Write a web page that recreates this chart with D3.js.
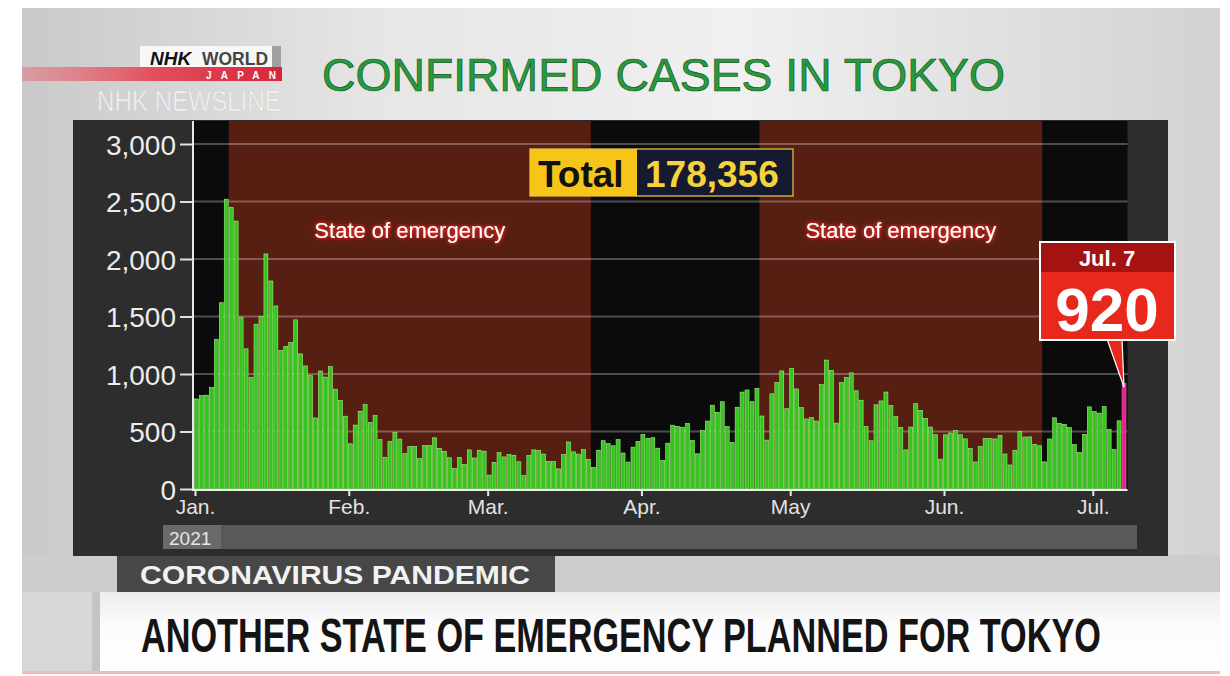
<!DOCTYPE html>
<html>
<head>
<meta charset="utf-8">
<script src="https://cdn.jsdelivr.net/npm/d3@7"></script>
<style>
body { margin: 0; background: #fff; }
svg { display: block; font-family: "Liberation Sans", Arial, Helvetica, sans-serif; }
</style>
</head>
<body>
<div class="canvas"></div>
<script>
// Daily confirmed cases, Tokyo, Jan 1 - Jul 7 2021
const janCases = [783, 814, 816, 884, 1300, 1620, 2520, 2450, 2330, 1494, 1219, 970, 1433, 1502, 2044, 1809,
    1592, 1204, 1240, 1274, 1471, 1175, 1070, 986, 618, 1026, 973, 1064, 868, 769, 633];
const febCases = [393, 556, 676, 734, 577, 639, 429, 276, 412, 491, 434, 307, 369, 371, 266, 378, 378, 445,
    353, 327, 272, 178, 275, 213, 340, 270, 337, 329];
const marCases = [121, 232, 316, 279, 301, 293, 237, 116, 290, 340, 335, 304, 239, 239, 175, 300, 409, 323,
    303, 342, 256, 187, 337, 420, 394, 376, 430, 313, 234, 364, 414];
const aprCases = [475, 440, 446, 355, 249, 399, 555, 545, 537, 570, 421, 306, 510, 591, 729, 667, 759, 543,
    405, 711, 843, 861, 759, 876, 635, 425, 828, 925, 1027, 698];
const mayCases = [1050, 870, 708, 609, 621, 591, 907, 1121, 1032, 573, 925, 969, 1010, 854, 772, 542, 419,
    732, 766, 843, 725, 630, 535, 340, 539, 743, 684, 614, 539, 472, 260];
const junCases = [471, 487, 508, 472, 436, 351, 235, 369, 440, 439, 435, 467, 304, 209, 337, 501, 452, 453,
    388, 376, 236, 435, 619, 570, 562, 534, 386, 317, 476, 714];
const julCases = [673, 660, 716, 518, 342, 593, 920];

const cases = [].concat(janCases, febCases, marCases, aprCases, mayCases, junCases, julCases);
const startDate = new Date(2021, 0, 1);
const monthLabels = ["Jan.", "Feb.", "Mar.", "Apr.", "May", "Jun.", "Jul."];
const yTicks = [0, 500, 1000, 1500, 2000, 2500, 3000];
const emergencies = [
    [new Date(2021, 0, 8), new Date(2021, 2, 22)],
    [new Date(2021, 3, 25), new Date(2021, 5, 21)]
];
const totalCases = 178356;
const lastLabel = "Jul. 7";

const days = cases.map((v, i) => ({ date: d3.timeDay.offset(startDate, i), value: v }));
const last = days[days.length - 1];

const svg = d3.select('.canvas')
    .append('svg')
    .attr('width', 1230)
    .attr('height', 676);

const defs = svg.append('defs');

// background gradient of the studio frame
const bgGrad = defs.append('linearGradient').attr('id', 'bg');
bgGrad.append('stop').attr('offset', '0%').attr('stop-color', '#c9c9c9');
bgGrad.append('stop').attr('offset', '30%').attr('stop-color', '#e6e6e6');
bgGrad.append('stop').attr('offset', '60%').attr('stop-color', '#f0f0f0');
bgGrad.append('stop').attr('offset', '100%').attr('stop-color', '#d2d2d2');

const redGrad = defs.append('linearGradient').attr('id', 'redbar');
redGrad.append('stop').attr('offset', '0%').attr('stop-color', '#e8707c').attr('stop-opacity', 0.5);
redGrad.append('stop').attr('offset', '50%').attr('stop-color', '#e2505e');
redGrad.append('stop').attr('offset', '100%').attr('stop-color', '#d8243a');

const bannerGrad = defs.append('linearGradient').attr('id', 'banner')
    .attr('x1', 0).attr('x2', 0).attr('y1', 0).attr('y2', 1);
bannerGrad.append('stop').attr('offset', '0%').attr('stop-color', '#ececec');
bannerGrad.append('stop').attr('offset', '40%').attr('stop-color', '#fbfbfb');
bannerGrad.append('stop').attr('offset', '100%').attr('stop-color', '#ffffff');

const glow = defs.append('filter').attr('id', 'glow')
    .attr('x', '-10%').attr('y', '-40%').attr('width', '120%').attr('height', '180%');
glow.append('feGaussianBlur').attr('in', 'SourceAlpha').attr('stdDeviation', 2.2).attr('result', 'b');
glow.append('feFlood').attr('flood-color', '#ff2a2a').attr('flood-opacity', 0.95);
glow.append('feComposite').attr('in2', 'b').attr('operator', 'in').attr('result', 'g');
const gm = glow.append('feMerge');
gm.append('feMergeNode').attr('in', 'g');
gm.append('feMergeNode').attr('in', 'g');
gm.append('feMergeNode').attr('in', 'SourceGraphic');

// squeeze a text horizontally so it spans `w` pixels without textLength
function fitWidth(sel, x0, y0, w) {
    const natural = sel.node().getComputedTextLength();
    const sx = natural > 0 ? w / natural : 1;
    sel.attr('x', 0).attr('y', 0)
        .attr('transform', `translate(${x0},${y0}) scale(${sx},1)`);
}

// Frame
svg.append('rect').attr('x', 22).attr('y', 8).attr('width', 1198).attr('height', 666).attr('fill', 'url(#bg)');
svg.append('rect').attr('x', 22).attr('y', 555).attr('width', 1198).attr('height', 40).attr('fill', '#cdcdcd');

// Logo
svg.append('rect').attr('x', 22).attr('y', 67).attr('width', 260).attr('height', 14).attr('fill', 'url(#redbar)');
svg.append('rect').attr('x', 140).attr('y', 46).attr('width', 132).attr('height', 21).attr('fill', '#f7f7f7');
svg.append('rect').attr('x', 272).attr('y', 46).attr('width', 9).attr('height', 21).attr('fill', '#a0a0a0');
svg.append('text').attr('x', 150).attr('y', 65).attr('font-size', 19).attr('font-weight', 'bold')
    .attr('font-style', 'italic').attr('fill', '#111').text('NHK');
svg.append('text').attr('x', 202).attr('y', 65).attr('font-size', 19).attr('font-weight', 'bold')
    .attr('fill', '#444').attr('textLength', 66).attr('lengthAdjust', 'spacingAndGlyphs').text('WORLD');
svg.append('text').attr('x', 206).attr('y', 79).attr('font-size', 10).attr('font-weight', 'bold')
    .attr('fill', '#fff').attr('textLength', 70).text('JAPAN');
svg.append('text').attr('x', 97).attr('y', 111).attr('font-size', 29)
    .attr('fill', '#ffffff').attr('fill-opacity', 0.7).attr('stroke', '#d0d0d0').attr('stroke-width', 0.6)
    .attr('textLength', 184).attr('lengthAdjust', 'spacingAndGlyphs').text('NHK NEWSLINE');

// Title
svg.append('text').attr('x', 322).attr('y', 91).attr('font-size', 46)
    .attr('fill', '#279a3f').attr('stroke', '#135a20').attr('stroke-width', 0.7)
    .attr('textLength', 683).attr('lengthAdjust', 'spacingAndGlyphs')
    .text('CONFIRMED CASES IN TOKYO');

// Chart panel
svg.append('rect').attr('x', 73).attr('y', 120).attr('width', 1095).attr('height', 436).attr('fill', '#2d2d2d');

const x = d3.scaleTime()
    .domain([startDate, d3.timeDay.offset(startDate, cases.length)])
    .range([194, 1126.5]);
const y = d3.scaleLinear().domain([0, 3000]).range([489, 144]);

const plotTop = 121;
const graph = svg.append('g');

graph.append('rect')
    .attr('x', 193).attr('y', plotTop).attr('width', x.range()[1] - 193 + 1).attr('height', y(0) - plotTop)
    .attr('fill', '#0b0b0c');

graph.selectAll('rect.emergency')
    .data(emergencies)
    .enter().append('rect')
    .attr('class', 'emergency')
    .attr('x', d => x(d[0]))
    .attr('y', plotTop)
    .attr('width', d => x(d[1]) - x(d[0]))
    .attr('height', y(0) - plotTop)
    .attr('fill', '#561f12');

graph.selectAll('text.emergency')
    .data(emergencies)
    .enter().append('text')
    .attr('class', 'emergency')
    .attr('x', d => (x(d[0]) + x(d[1])) / 2)
    .attr('y', 238)
    .attr('text-anchor', 'middle')
    .attr('font-size', 22)
    .attr('font-family', '"Liberation Sans Narrow", "Liberation Sans", Arial, sans-serif')
    .attr('fill', '#fff')
    .attr('filter', 'url(#glow)')
    .text('State of emergency');

// gridlines
graph.selectAll('line.grid')
    .data(yTicks.filter(d => d > 0))
    .enter().append('line')
    .attr('class', 'grid')
    .attr('x1', 193).attr('x2', x.range()[1] + 1)
    .attr('y1', d => y(d)).attr('y2', d => y(d))
    .attr('stroke', '#ffffff').attr('stroke-opacity', 0.28).attr('stroke-width', 2);

// bars
const step = x(d3.timeDay.offset(startDate, 1)) - x(startDate);
graph.selectAll('rect.bar')
    .data(days)
    .enter().append('rect')
    .attr('class', 'bar')
    .attr('x', d => x(d.date) + 0.5)
    .attr('y', d => y(d.value))
    .attr('width', step - 1)
    .attr('height', d => y(0) - y(d.value))
    .attr('fill', d => d === last ? '#e0268e' : '#36c41e')
    .attr('stroke', d => d === last ? '#f060b0' : '#a4f284')
    .attr('stroke-width', 0.6);

// axes
const yAxis = d3.axisLeft(y).tickValues(yTicks).tickSize(12).tickPadding(4).tickFormat(d3.format(','));
const yG = graph.append('g').attr('transform', 'translate(192,0)').call(yAxis);
yG.select('.domain').remove();
yG.selectAll('line').attr('stroke', '#e0e0e0').attr('stroke-width', 2);
yG.selectAll('text').attr('fill', '#ececec').attr('font-size', 28)
    .attr('font-family', '"Liberation Sans", Arial, sans-serif').attr('dy', '0.36em');
graph.append('line').attr('x1', 193).attr('x2', 193).attr('y1', plotTop).attr('y2', y(0) + 1)
    .attr('stroke', '#e8e8e8').attr('stroke-width', 2);

const months = d3.timeMonth.range(startDate, d3.timeDay.offset(startDate, cases.length));
const xAxis = d3.axisBottom(x).tickValues(months).tickSize(7).tickPadding(3)
    .tickFormat((d, i) => monthLabels[i]);
const xG = graph.append('g').attr('transform', `translate(1,${y(0)})`).call(xAxis);
xG.select('.domain').remove();
xG.selectAll('line').attr('stroke', '#e8e8e8').attr('stroke-width', 2);
xG.selectAll('text').attr('fill', '#e2e2e2').attr('font-size', 21)
    .attr('font-family', '"Liberation Sans", Arial, sans-serif');
graph.append('line').attr('x1', 192).attr('x2', x.range()[1] + 1).attr('y1', y(0) + 1).attr('y2', y(0) + 1)
    .attr('stroke', '#f0f0f0').attr('stroke-width', 2);

// year bar
svg.append('rect').attr('x', 163).attr('y', 525).attr('width', 974).attr('height', 24).attr('fill', '#595959');
svg.append('rect').attr('x', 163).attr('y', 525).attr('width', 58).attr('height', 24).attr('fill', '#6a6a6a');
svg.append('text').attr('x', 169).attr('y', 545).attr('font-size', 19).attr('fill', '#e6e6e6').text('2021');

// Total box
svg.append('rect').attr('x', 530).attr('y', 149).attr('width', 263).attr('height', 47)
    .attr('fill', '#151a30').attr('stroke', '#c9a93a').attr('stroke-width', 1.5);
svg.append('rect').attr('x', 530).attr('y', 149).attr('width', 107).attr('height', 47).attr('fill', '#f7c51a');
svg.append('text').attr('x', 538).attr('y', 187).attr('font-size', 37).attr('font-weight', 'bold')
    .attr('fill', '#111').text('Total');
svg.append('text').attr('x', 645).attr('y', 187).attr('font-size', 37).attr('font-weight', 'bold')
    .attr('fill', '#f6d33c').text(d3.format(',')(totalCases));

// Callout for last day
const cx = x(last.date) + step / 2;
const callout = svg.append('g');
callout.append('path')
    .attr('d', `M${cx - 17},339 L${cx - 2},339 L${cx},${y(last.value) + 4} Z`)
    .attr('fill', '#e8281c').attr('stroke', '#ffffff').attr('stroke-width', 1.2);
callout.append('rect').attr('x', 1040).attr('y', 242).attr('width', 135).attr('height', 98)
    .attr('fill', '#e8281c').attr('stroke', '#ffffff').attr('stroke-width', 2);
callout.append('rect').attr('x', 1041).attr('y', 243).attr('width', 133).attr('height', 29).attr('fill', '#a41212');
callout.append('text').attr('x', 1107).attr('y', 266).attr('text-anchor', 'middle')
    .attr('font-size', 22).attr('font-weight', 'bold').attr('fill', '#fff').text(lastLabel);
callout.append('text').attr('x', 1107).attr('y', 331).attr('text-anchor', 'middle')
    .attr('font-size', 62).attr('font-weight', 'bold').attr('fill', '#fff').text(last.value);

// Lower captions
svg.append('rect').attr('x', 117).attr('y', 556).attr('width', 438).attr('height', 36).attr('fill', '#474747');
svg.append('text').attr('x', 140).attr('y', 584).attr('font-size', 26).attr('font-weight', 'bold')
    .attr('fill', '#f2f2f2').attr('textLength', 390).attr('lengthAdjust', 'spacingAndGlyphs')
    .text('CORONAVIRUS PANDEMIC');

svg.append('rect').attr('x', 22).attr('y', 592).attr('width', 78).attr('height', 80).attr('fill', '#d9d7d6');
svg.append('rect').attr('x', 92).attr('y', 592).attr('width', 8).attr('height', 80).attr('fill', '#c4c4c4');
svg.append('rect').attr('x', 100).attr('y', 592).attr('width', 1120).attr('height', 80).attr('fill', 'url(#banner)');
const headline = svg.append('text')
    .attr('font-size', 48).attr('font-weight', 'bold')
    .attr('font-family', '"Liberation Sans Narrow", "Liberation Sans", Arial, sans-serif')
    .attr('fill', '#141414')
    .text('ANOTHER STATE OF EMERGENCY PLANNED FOR TOKYO');
fitWidth(headline, 141, 652, 960);
svg.append('rect').attr('x', 22).attr('y', 671).attr('width', 1198).attr('height', 3).attr('fill', '#f2b8be');
</script>
</body>
</html>
